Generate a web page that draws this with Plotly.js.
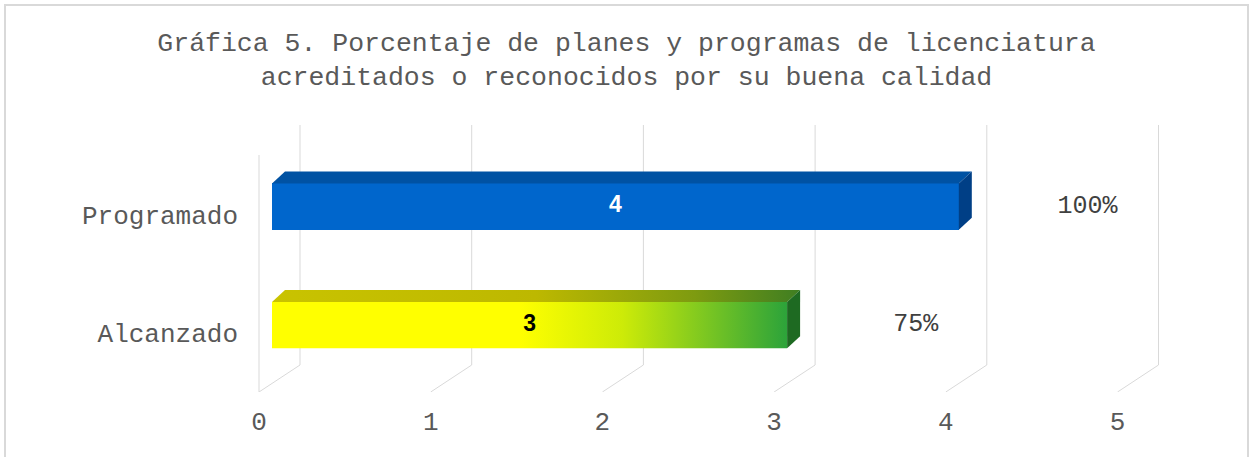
<!DOCTYPE html>
<html><head><meta charset="utf-8">
<script src="https://cdn.plot.ly/plotly-3.0.1.min.js"></script>
<style>
html,body{margin:0;padding:0;background:#fff;}
#wrap{position:relative;width:1253px;height:457px;}
#chart{position:absolute;left:0;top:0;width:1253px;height:457px;}
#frame{position:absolute;left:4px;top:4px;width:1241px;height:460px;border:2px solid #D9D9D9;pointer-events:none;}
</style></head>
<body>
<div id="wrap"><div id="chart"></div><div id="frame"></div></div>
<script>
// ---- data ----
const categorias = ['Alcanzado', 'Programado'];
const valores = [3, 4];
const porcentajes = [75, 100];
const ticksX = [0, 1, 2, 3, 4, 5];
const tituloLineas = ['Gráfica 5. Porcentaje de planes y programas de licenciatura',
                      'acreditados o reconocidos por su buena calidad'];

// ---- geometry helpers (axis units) ----
const PXU = 171.7;               // px per x unit
const PYU = 118.5;               // px per category
const yPos = categorias.map((c, i) => i);
const barW = 0.39;
const dx = 13 / PXU, dy = 12 / PYU;     // 3-D depth
const frontOff = -13 / PXU, backOff = 28 / PXU;
const yRange = [-0.565, 1.688];
const floorFront = yRange[0], floorBack = yRange[0] + 27 / PYU;
const leftWallTop = yRange[1] - 30 / PYU;

const traces = [];
const shapes = [];
const gridLine = {color:'#D9D9D9', width:1};

// walls / floor grid (drawn below the bars)
ticksX.forEach(t => {
  shapes.push({type:'line', xref:'x', yref:'y', layer:'below', x0:t + backOff, x1:t + backOff, y0:floorBack, y1:yRange[1], line:gridLine});
  shapes.push({type:'line', xref:'x', yref:'y', layer:'below', x0:t + frontOff, x1:t + backOff, y0:floorFront, y1:floorBack, line:gridLine});
});
shapes.push({type:'line', xref:'x', yref:'y', layer:'below', x0:ticksX[0] + frontOff, x1:ticksX[0] + frontOff, y0:floorFront, y1:leftWallTop, line:gridLine});

// front faces as bars
traces.push({type:'bar', orientation:'h', x:valores, y:yPos, width:barW,
  marker:{color:['#FFFF00', '#0066CC'], line:{width:0}}, hoverinfo:'skip', showlegend:false});

const styles = [
  { front:{type:'horizontal', colorscale:[[0,'#FFFF00'],[0.48,'#FFFF00'],[0.68,'#CDEB08'],[1,'#2CA33A']]},
    top:{type:'horizontal', colorscale:[[0,'#C9C300'],[0.5,'#BDB800'],[0.8,'#7E9B10'],[1,'#3F7E22']]},
    side:'#1E6A22', text:'#000000' },
  { front:null, top:null, topColor:'#0052A3', side:'#003F86', text:'#FFFFFF' }
];

valores.forEach((v, i) => {
  const y0 = yPos[i] - barW / 2, y1 = yPos[i] + barW / 2;
  const st = styles[i];
  if (st.front) {
    traces.push({type:'scatter', mode:'lines', x:[0, v, v, 0, 0], y:[y0, y0, y1, y1, y0],
      fill:'toself', fillgradient:st.front, line:{width:0}, hoverinfo:'skip', showlegend:false});
  }
  const topT = {type:'scatter', mode:'lines', x:[0, dx, v + dx, v, 0], y:[y1, y1 + dy, y1 + dy, y1, y1],
    fill:'toself', line:{width:0}, hoverinfo:'skip', showlegend:false};
  if (st.top) topT.fillgradient = st.top; else topT.fillcolor = st.topColor;
  traces.push(topT);
  traces.push({type:'scatter', mode:'lines', x:[v, v + dx, v + dx, v, v], y:[y0, y0 + dy, y1 + dy, y1, y0],
    fill:'toself', fillcolor:st.side, line:{width:0}, hoverinfo:'skip', showlegend:false});
});

// value labels
traces.push({type:'scatter', mode:'text', x:valores.map(v => v / 2), y:yPos,
  text:valores.map(String), textposition:'middle center',
  textfont:{family:'Liberation Sans, Arial, sans-serif', size:23, weight:'bold', color:styles.map(s => s.text)},
  hoverinfo:'skip', showlegend:false});

// percentage labels
traces.push({type:'scatter', mode:'text', x:valores.map(v => v + 0.75), y:yPos,
  text:porcentajes.map(p => p + '%'), textposition:'middle center',
  textfont:{family:'Liberation Mono, monospace', size:25, color:'#404040'},
  hoverinfo:'skip', showlegend:false, cliponaxis:false});

const L = 245, R = 53, W = 1253;
const plotW = W - L - R;
const xr = r0px => [-(r0px - L) / PXU, -(r0px - L) / PXU + plotW / PXU];
const labelDrop = 8 / PYU;

const layout = {
  width:1253, height:457,
  margin:{l:L, r:R, t:125, b:65, pad:0},
  paper_bgcolor:'#FFFFFF', plot_bgcolor:'rgba(0,0,0,0)',
  showlegend:false,
  shapes:shapes,
  title:{text:tituloLineas.join('<br>'), x:0.5, xanchor:'center', y:0.889, yanchor:'top',
    font:{family:'Liberation Mono, monospace', size:26.5, color:'#595959'}},
  xaxis:{range:xr(272), showgrid:false, zeroline:false, showline:false, showticklabels:false, ticks:'', fixedrange:true},
  xaxis2:{overlaying:'x', anchor:'y', side:'bottom', range:xr(259), tickvals:ticksX, ticktext:ticksX.map(String),
    showgrid:false, zeroline:false, showline:false, ticks:'', ticklabelstandoff:11,
    tickfont:{family:'Liberation Mono, monospace', size:26, color:'#595959'}},
  yaxis:{range:yRange, tickvals:yPos.map(y => y - labelDrop), ticktext:categorias, showgrid:false, zeroline:false, showline:false, ticks:'',
    ticklabelstandoff:6,
    tickfont:{family:'Liberation Mono, monospace', size:26, color:'#595959'}},
  bargap:0
};
// dummy trace to activate xaxis2
traces.push({type:'scatter', mode:'markers', x:[ticksX[0]], y:[yRange[0]], xaxis:'x2', yaxis:'y',
  marker:{opacity:0}, hoverinfo:'skip', showlegend:false});

Plotly.newPlot('chart', traces, layout, {displayModeBar:false, staticPlot:true});
</script>
</body></html>
